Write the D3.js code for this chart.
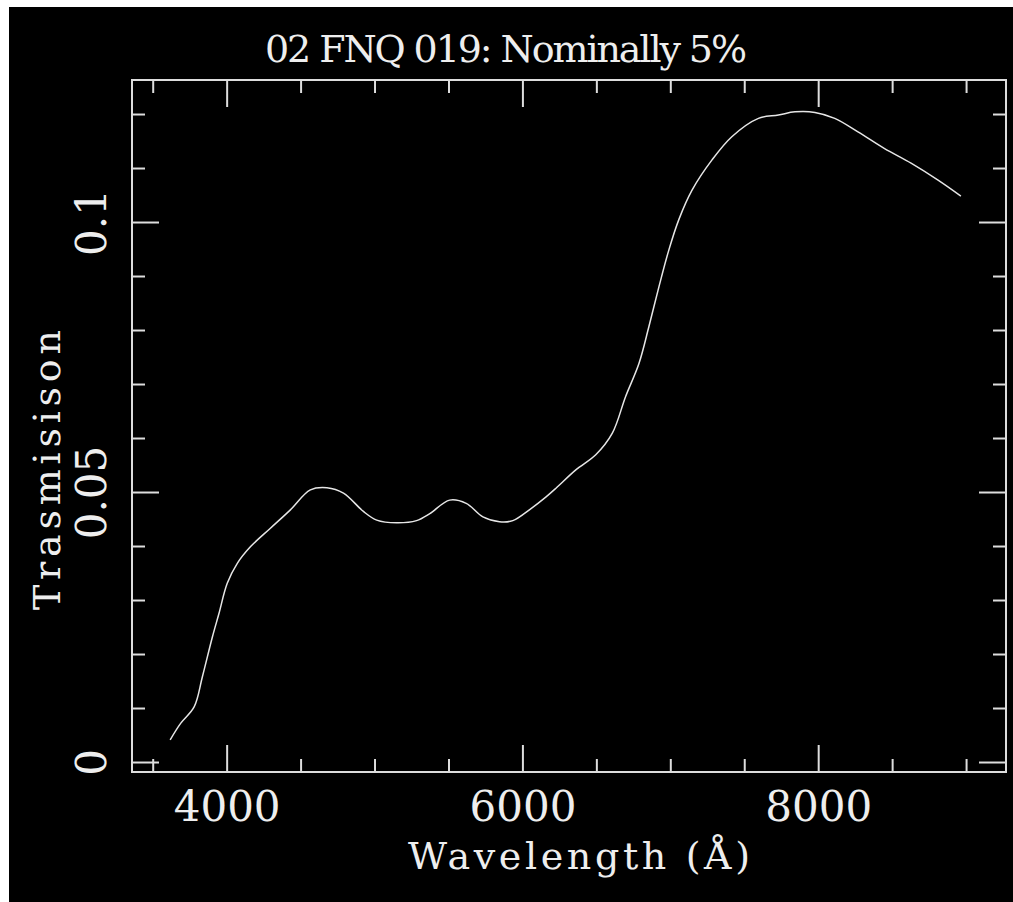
<!DOCTYPE html>
<html>
<head>
<meta charset="utf-8">
<script src="https://cdn.jsdelivr.net/npm/d3@7"></script>
<style>
  body { margin: 0; background: #fff; }
  svg text { font-family: "DejaVu Serif", "Liberation Serif", serif; fill: #eee; }
</style>
</head>
<body>
<div id="chart"></div>
<script>
// wavelength (Angstrom) and transmission
var wavelength = [3618, 3690, 3780, 3836, 3904, 3948, 4004, 4072, 4162, 4296, 4431, 4566, 4678, 4790,
  4925, 5015, 5150, 5284, 5374, 5508, 5620, 5733, 5845, 5935, 6047, 6160, 6227, 6361, 6496, 6608,
  6698, 6788, 6855, 6923, 6990, 7057, 7147, 7282, 7416, 7596, 7731, 7843, 7978, 8112, 8269, 8449,
  8628, 8808, 8965];
var transmission = [0.0041, 0.0072, 0.0102, 0.0158, 0.0232, 0.0275, 0.0331, 0.0368, 0.0399, 0.0433,
  0.0467, 0.0504, 0.0508, 0.0498, 0.0464, 0.0448, 0.0443, 0.0447, 0.0460, 0.0485, 0.0479, 0.0454,
  0.0445, 0.0447, 0.0467, 0.0491, 0.0507, 0.0541, 0.0569, 0.0609, 0.0677, 0.0738, 0.0806, 0.0880,
  0.0948, 0.1004, 0.1059, 0.1115, 0.1158, 0.1192, 0.1198, 0.1204, 0.1203, 0.1192, 0.1167, 0.1136,
  0.1109, 0.1078, 0.1048];

var xMajor = [4000, 6000, 8000];
var xMinor = [3500, 4500, 5000, 5500, 6500, 7000, 7500, 8500, 9000];
var yMajor = [0, 0.05, 0.1];
var yMinor = [0.01, 0.02, 0.03, 0.04, 0.06, 0.07, 0.08, 0.09, 0.11, 0.12];
var yLabels = ["0", "0.05", "0.1"];

var svgWidth = 1013;
var svgHeight = 902;
var margin = {top: 80, right: 7, bottom: 130, left: 132};
var width = svgWidth - margin.left - margin.right;
var height = svgHeight - margin.top - margin.bottom;

var svg = d3.select("#chart")
  .append("svg")
  .attr("width", svgWidth)
  .attr("height", svgHeight);

// black plot area, white strip at top and left like the source image
svg.append("rect")
  .attr("x", 9).attr("y", 7)
  .attr("width", svgWidth - 9).attr("height", svgHeight - 7)
  .attr("fill", "#000");

var chartGroup = svg.append("g")
  .attr("transform", `translate(${margin.left}, ${margin.top})`);

var x = d3.scaleLinear().domain([3360, 9270]).range([0, width]);
var y = d3.scaleLinear().domain([-0.00185, 0.1263]).range([height, 0]);

var lineColor = "#ddd";

function styleAxis(g) {
  g.select(".domain").remove();
  g.selectAll("line").attr("stroke", lineColor).attr("stroke-width", 2);
}

// bottom axis
chartGroup.append("g")
  .attr("transform", `translate(0,${height})`)
  .call(d3.axisBottom(x).tickValues(xMajor).tickSize(-27).tickPadding(19).tickFormat(d3.format("d")))
  .call(styleAxis)
  .selectAll("text")
  .attr("font-size", 42)
  .attr("fill", "#eee")
  .style("font-family", "DejaVu Serif");

chartGroup.append("g")
  .attr("transform", `translate(0,${height})`)
  .call(d3.axisBottom(x).tickValues(xMinor).tickSize(-13).tickFormat(""))
  .call(styleAxis);

// top axis (ticks only)
chartGroup.append("g")
  .call(d3.axisTop(x).tickValues(xMajor).tickSize(-27).tickFormat(""))
  .call(styleAxis);
chartGroup.append("g")
  .call(d3.axisTop(x).tickValues(xMinor).tickSize(-13).tickFormat(""))
  .call(styleAxis);

// left axis with rotated labels
chartGroup.append("g")
  .call(d3.axisLeft(y).tickValues(yMajor).tickSize(-27).tickFormat((d, i) => yLabels[i]))
  .call(styleAxis)
  .selectAll("text")
  .attr("x", 0)
  .attr("dy", 0)
  .attr("text-anchor", "middle")
  .attr("transform", "translate(-26,0) rotate(-90)")
  .attr("font-size", 42)
  .attr("fill", "#eee")
  .style("font-family", "DejaVu Serif");

chartGroup.append("g")
  .call(d3.axisLeft(y).tickValues(yMinor).tickSize(-13).tickFormat(""))
  .call(styleAxis);

// right axis (ticks only)
chartGroup.append("g")
  .attr("transform", `translate(${width},0)`)
  .call(d3.axisRight(y).tickValues(yMajor).tickSize(-27).tickFormat(""))
  .call(styleAxis);
chartGroup.append("g")
  .attr("transform", `translate(${width},0)`)
  .call(d3.axisRight(y).tickValues(yMinor).tickSize(-13).tickFormat(""))
  .call(styleAxis);

// frame
chartGroup.append("rect")
  .attr("width", width)
  .attr("height", height)
  .attr("fill", "none")
  .attr("stroke", lineColor)
  .attr("stroke-width", 2);

// transmission curve
var line = d3.line()
  .x(d => x(d[0]))
  .y(d => y(d[1]))
  .curve(d3.curveCatmullRom);

chartGroup.append("path")
  .datum(d3.zip(wavelength, transmission))
  .attr("d", line)
  .attr("fill", "none")
  .attr("stroke", "#e6e6e6")
  .attr("stroke-width", 1.5);

// title and axis labels
svg.append("text")
  .attr("x", 506)
  .attr("y", 62)
  .attr("text-anchor", "middle")
  .attr("font-size", 38)
  .attr("textLength", 482)
  .attr("lengthAdjust", "spacing")
  .text("02 FNQ 019: Nominally 5%");

svg.append("text")
  .attr("x", 579)
  .attr("y", 869)
  .attr("text-anchor", "middle")
  .attr("font-size", 38)
  .attr("textLength", 342)
  .attr("lengthAdjust", "spacing")
  .text("Wavelength (Å)");

svg.append("text")
  .attr("transform", "translate(60, 470) rotate(-90)")
  .attr("text-anchor", "middle")
  .attr("font-size", 38)
  .attr("textLength", 280)
  .attr("lengthAdjust", "spacing")
  .text("Trasmisison");
</script>
</body>
</html>
